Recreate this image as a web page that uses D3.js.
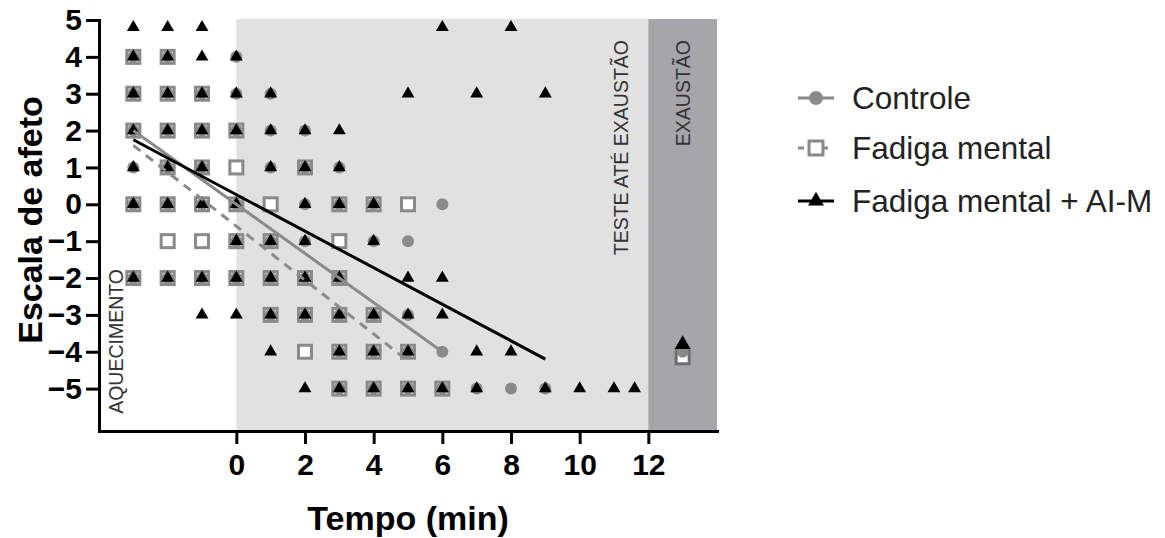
<!DOCTYPE html>
<html>
<head>
<meta charset="utf-8">
<script src="https://cdn.jsdelivr.net/npm/d3@7"></script>
<style>
  body { margin: 0; background: #fff; }
  text { font-family: "Liberation Sans", Arial, sans-serif; }
</style>
</head>
<body>
<svg width="1165" height="538"></svg>
<script>
// affect scale over time, three groups
const controle = [
  [-3,4],[-3,3],[-3,2],[-3,1],[-3,0],[-3,-2],
  [-2,4],[-2,3],[-2,2],[-2,1],[-2,0],[-2,-2],
  [-1,3],[-1,2],[-1,1],[-1,0],[-1,-2],
  [0,4],[0,3],[0,2],[0,0],[0,-1],[0,-2],
  [1,3],[1,2],[1,1],[1,-1],[1,-2],[1,-3],
  [2,2],[2,1],[2,0],[2,-1],[2,-2],[2,-3],
  [3,1],[3,0],[3,-2],[3,-3],[3,-4],[3,-5],
  [4,0],[4,-1],[4,-3],[4,-4],[4,-5],
  [5,-1],[5,-3],[5,-4],[5,-5],
  [6,0],[6,-4],[6,-5],
  [7,-5],[8,-5],[9,-5],
  [13,-4]
];
const fadiga = [
  [-3,4],[-3,3],[-3,2],[-3,0],[-3,-2],
  [-2,4],[-2,3],[-2,2],[-2,1],[-2,0],[-2,-1],[-2,-2],
  [-1,3],[-1,2],[-1,1],[-1,0],[-1,-1],[-1,-2],
  [0,2],[0,1],[0,0],[0,-1],[0,-2],
  [1,0],[1,-1],[1,-2],[1,-3],
  [2,1],[2,-2],[2,-3],[2,-4],
  [3,0],[3,-1],[3,-2],[3,-3],[3,-4],[3,-5],
  [4,0],[4,-3],[4,-4],[4,-5],
  [5,0],[5,-4],[5,-5],
  [6,-5],
  [13,-4.15]
];
const fadigaAIM = [
  [-3,4.8],[-3,4],[-3,3],[-3,2],[-3,1],[-3,0],[-3,-2],
  [-2,4.8],[-2,4],[-2,3],[-2,2],[-2,1],[-2,0],[-2,-2],
  [-1,4.8],[-1,4],[-1,3],[-1,2],[-1,1],[-1,0],[-1,-2],[-1,-3],
  [0,4],[0,3],[0,2],[0,0],[0,-1],[0,-2],[0,-3],
  [1,3],[1,2],[1,1],[1,-1],[1,-2],[1,-3],[1,-4],
  [2,2],[2,1],[2,0],[2,-1],[2,-2],[2,-3],[2,-5],
  [3,2],[3,1],[3,0],[3,-2],[3,-3],[3,-4],[3,-5],
  [4,0],[4,-1],[4,-3],[4,-4],[4,-5],
  [5,3],[5,-2],[5,-3],[5,-4],[5,-5],
  [6,4.8],[6,-2],[6,-3],[6,-5],
  [7,3],[7,-4],[7,-5],
  [8,4.8],[8,-4],
  [9,3],[9,-5],
  [10,-5],[11,-5],[11.6,-5],
  [13,-3.8]
];

// fitted lines (start, end)
const fitControle = [[-3, 2.0], [6, -4.0]];
const fitFadiga = [[-3, 1.6], [5, -4.25]];
const fitAIM = [[-3, 1.75], [9, -4.2]];

const xTicks = [0, 2, 4, 6, 8, 10, 12];
const yTicks = [-5, -4, -3, -2, -1, 0, 1, 2, 3, 4, 5];
const phases = [
  {name: "TESTE ATÉ EXAUSTÃO", from: 0, to: 12},
  {name: "EXAUSTÃO", from: 12, to: 14}
];
const legendNames = ["Controle", "Fadiga mental", "Fadiga mental + AI-M"];

const grey = "#8a8a8a";
let margin = {top: 20, left: 99},
    plotWidth = 618,
    plotHeight = 411;

const svg = d3.select("svg");
const g = svg.append("g")
  .attr("transform", `translate(${margin.left}, ${margin.top})`);

const x = d3.scaleLinear().domain([-4, 14]).range([0, plotWidth]);
const y = d3.scaleLinear().domain([-6.15, 5]).range([plotHeight, 0]);

// shaded phases
g.selectAll("rect.phase").data(phases).enter().append("rect")
  .attr("class", "phase")
  .attr("x", d => x(d.from))
  .attr("y", y(5) - 1)
  .attr("width", d => x(d.to) - x(d.from))
  .attr("height", plotHeight - y(5) + 1)
  .attr("fill", (d, i) => i == 0 ? "#e1e1e1" : "#a5a5aa");

// phase labels
g.append("text")
  .attr("transform", `translate(${x(-3.5)}, ${y(-5.25) + 16}) rotate(-90)`)
  .attr("dominant-baseline", "central")
  .attr("font-size", "19.5px")
  .attr("fill", "#333")
  .text("AQUECIMENTO");

g.selectAll("text.phase").data(phases).enter().append("text")
  .attr("class", "phase")
  .attr("transform", (d, i) => `translate(${i == 0 ? x(11.2) : x(13)}, ${20}) rotate(-90)`)
  .attr("dominant-baseline", "central")
  .attr("text-anchor", "end")
  .attr("font-size", "19.5px")
  .attr("fill", "#333")
  .text(d => d.name);

// markers: squares, then circles, then triangles
g.selectAll("rect.sq").data(fadiga).enter().append("rect")
  .attr("class", "sq")
  .attr("x", d => x(d[0]) - 6.5)
  .attr("y", d => y(d[1]) - 6.5)
  .attr("width", 13)
  .attr("height", 13)
  .attr("fill", "#fff")
  .attr("stroke", d => d[0] > 12 ? "#6e6e70" : grey)
  .attr("stroke-width", 3);

g.selectAll("circle").data(controle).enter().append("circle")
  .attr("cx", d => x(d[0]))
  .attr("cy", d => y(d[1]))
  .attr("r", 6)
  .attr("fill", grey);

const tri = d3.symbol().type(d3.symbolTriangle).size(72);
const triBig = d3.symbol().type(d3.symbolTriangle).size(110);
g.selectAll("path.tri").data(fadigaAIM).enter().append("path")
  .attr("class", "tri")
  .attr("d", d => d[0] > 12 ? triBig() : tri())
  .attr("transform", d => `translate(${x(d[0])}, ${y(d[1])})`)
  .attr("fill", "#000");

// fit lines
const line = d3.line().x(d => x(d[0])).y(d => y(d[1]));
g.append("path").datum(fitControle).attr("d", line)
  .attr("stroke", grey).attr("stroke-width", 3).attr("fill", "none");
g.append("path").datum(fitFadiga).attr("d", line)
  .attr("stroke", grey).attr("stroke-width", 3).attr("stroke-dasharray", "9,7").attr("fill", "none");
g.append("path").datum(fitAIM).attr("d", line)
  .attr("stroke", "#000").attr("stroke-width", 3).attr("fill", "none");

// axes
const xAxis = g.append("g")
  .attr("transform", `translate(0, ${plotHeight})`)
  .call(d3.axisBottom(x).tickValues(xTicks).tickSize(13).tickSizeOuter(0).tickPadding(10));
const yAxis = g.append("g")
  .call(d3.axisLeft(y).tickValues(yTicks).tickSize(13).tickSizeOuter(0).tickPadding(4));

[xAxis, yAxis].forEach(a => {
  a.select(".domain").attr("stroke-width", 3).attr("stroke-linecap", "square");
  a.selectAll(".tick line").attr("stroke-width", 3);
  a.selectAll(".tick text")
    .attr("font-family", "Liberation Sans, Arial, sans-serif")
    .attr("font-weight", "bold")
    .attr("font-size", "30px")
    .attr("fill", "#000");
});

// axis titles
svg.append("text")
  .attr("x", 408)
  .attr("y", 530)
  .attr("text-anchor", "middle")
  .attr("font-size", "34px")
  .attr("font-weight", "bold")
  .text("Tempo (min)");

svg.append("text")
  .attr("transform", "translate(42, 220) rotate(-90)")
  .attr("text-anchor", "middle")
  .attr("font-size", "34px")
  .attr("font-weight", "bold")
  .text("Escala de afeto");

// legend
const legend = svg.append("g").attr("transform", "translate(798, 0)");
const legY = [98, 148, 201];
legendNames.forEach((name, i) => {
  const row = legend.append("g").attr("transform", `translate(0, ${legY[i]})`);
  row.append("line")
    .attr("x1", 0).attr("x2", 36)
    .attr("stroke", i == 2 ? "#000" : grey)
    .attr("stroke-width", 3)
    .attr("stroke-dasharray", i == 1 ? "6,18,6" : null);
  if (i == 0) {
    row.append("circle").attr("cx", 18).attr("r", 7).attr("fill", grey);
  } else if (i == 1) {
    row.append("rect").attr("x", 11).attr("y", -7).attr("width", 14).attr("height", 14)
      .attr("fill", "#fff").attr("stroke", grey).attr("stroke-width", 3);
  } else {
    row.append("path").attr("d", triBig)
      .attr("transform", "translate(18, 0)").attr("fill", "#000");
  }
  row.append("text")
    .attr("x", 54)
    .attr("dominant-baseline", "central")
    .attr("font-size", "31.5px")
    .attr("fill", "#222")
    .text(name);
});
</script>
</body>
</html>
